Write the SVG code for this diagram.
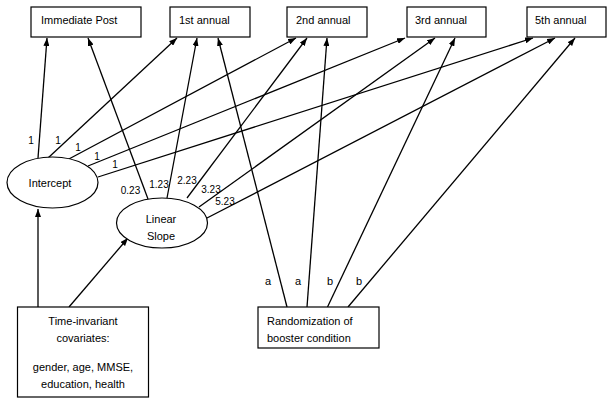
<svg xmlns="http://www.w3.org/2000/svg" width="615" height="406" viewBox="0 0 615 406">
<style>
.box{fill:#fff;stroke:#000;stroke-width:1.2}
.t{font-family:"Liberation Sans",Arial,sans-serif;font-size:11px;fill:#000}
.n{font-family:"Liberation Sans",Arial,sans-serif;font-size:10px;fill:#000;text-anchor:middle}
.e{stroke:#000;stroke-width:1.3;fill:none;marker-end:url(#ah)}
</style>
<defs>
<marker id="ah" viewBox="0 0 8 6" refX="8" refY="3" markerWidth="8" markerHeight="6" markerUnits="userSpaceOnUse" orient="auto">
<path d="M0,0 L8,3 L0,6 z" fill="#000"/>
</marker>
</defs>
<rect width="615" height="406" fill="#fff"/>
<g id="connectors">
<line class="e" x1="38" y1="158" x2="47" y2="38"/>
<line class="e" x1="48" y1="158" x2="177" y2="38"/>
<line class="e" x1="67" y1="160" x2="296" y2="38"/>
<line class="e" x1="88" y1="166" x2="405" y2="38"/>
<line class="e" x1="98" y1="177" x2="533" y2="38"/>
<line class="e" x1="148" y1="199" x2="88" y2="38"/>
<line class="e" x1="167" y1="198" x2="197" y2="38"/>
<line class="e" x1="187" y1="198" x2="307" y2="38"/>
<line class="e" x1="199" y1="207" x2="435" y2="38"/>
<line class="e" x1="207" y1="218" x2="555" y2="38"/>
<line class="e" x1="287" y1="307" x2="218" y2="38"/>
<line class="e" x1="307" y1="307" x2="327" y2="38"/>
<line class="e" x1="327.5" y1="307" x2="455" y2="38"/>
<line class="e" x1="348" y1="307" x2="575" y2="38"/>
<line class="e" x1="38" y1="307" x2="38" y2="209"/>
<line class="e" x1="69" y1="307" x2="128" y2="238"/>
<text class="n" x="31" y="143.5">1</text>
<text class="n" x="58" y="143.5">1</text>
<text class="n" x="78" y="150.5">1</text>
<text class="n" x="97" y="159.5">1</text>
<text class="n" x="115" y="168">1</text>
<text class="n" x="130.5" y="193.5">0.23</text>
<text class="n" x="159" y="187.5">1.23</text>
<text class="n" x="187" y="183.5">2.23</text>
<text class="n" x="211" y="193">3.23</text>
<text class="n" x="225" y="205">5.23</text>
<text class="t" x="268" y="284.5" text-anchor="middle">a</text>
<text class="t" x="298" y="284.5" text-anchor="middle">a</text>
<text class="t" x="330" y="284.5" text-anchor="middle">b</text>
<text class="t" x="359" y="284.5" text-anchor="middle">b</text>
</g>
<g id="immediate-post">
<rect class="box" x="31" y="7" width="110" height="30"/>
<text class="t" x="41" y="24">Immediate Post</text>
</g>
<g id="annual-1">
<rect class="box" x="170" y="7" width="80" height="30"/>
<text class="t" x="179" y="24">1st annual</text>
</g>
<g id="annual-2">
<rect class="box" x="287" y="7" width="80" height="30"/>
<text class="t" x="296" y="24">2nd annual</text>
</g>
<g id="annual-3">
<rect class="box" x="407" y="7" width="79" height="30"/>
<text class="t" x="415" y="24">3rd annual</text>
</g>
<g id="annual-5">
<rect class="box" x="527" y="7" width="79" height="30"/>
<text class="t" x="535" y="24">5th annual</text>
</g>
<g id="intercept">
<ellipse class="box" cx="52.5" cy="182.5" rx="45.5" ry="25.5"/>
<text class="t" x="50" y="186.5" text-anchor="middle">Intercept</text>
</g>
<g id="linear-slope">
<ellipse class="box" cx="162" cy="223" rx="45.5" ry="25"/>
<text class="t" x="161" y="222.5" text-anchor="middle">Linear</text>
<text class="t" x="161" y="239.5" text-anchor="middle">Slope</text>
</g>
<g id="covariates">
<rect class="box" x="17.5" y="307" width="131" height="90"/>
<text class="t" x="83" y="325" text-anchor="middle">Time-invariant</text>
<text class="t" x="83" y="342" text-anchor="middle">covariates:</text>
<text class="t" x="83" y="371" text-anchor="middle">gender, age, MMSE,</text>
<text class="t" x="83" y="387.5" text-anchor="middle">education, health</text>
</g>
<g id="randomization">
<rect class="box" x="258" y="307" width="121" height="41"/>
<text class="t" x="267" y="325">Randomization of</text>
<text class="t" x="267" y="342">booster condition</text>
</g>
</svg>
